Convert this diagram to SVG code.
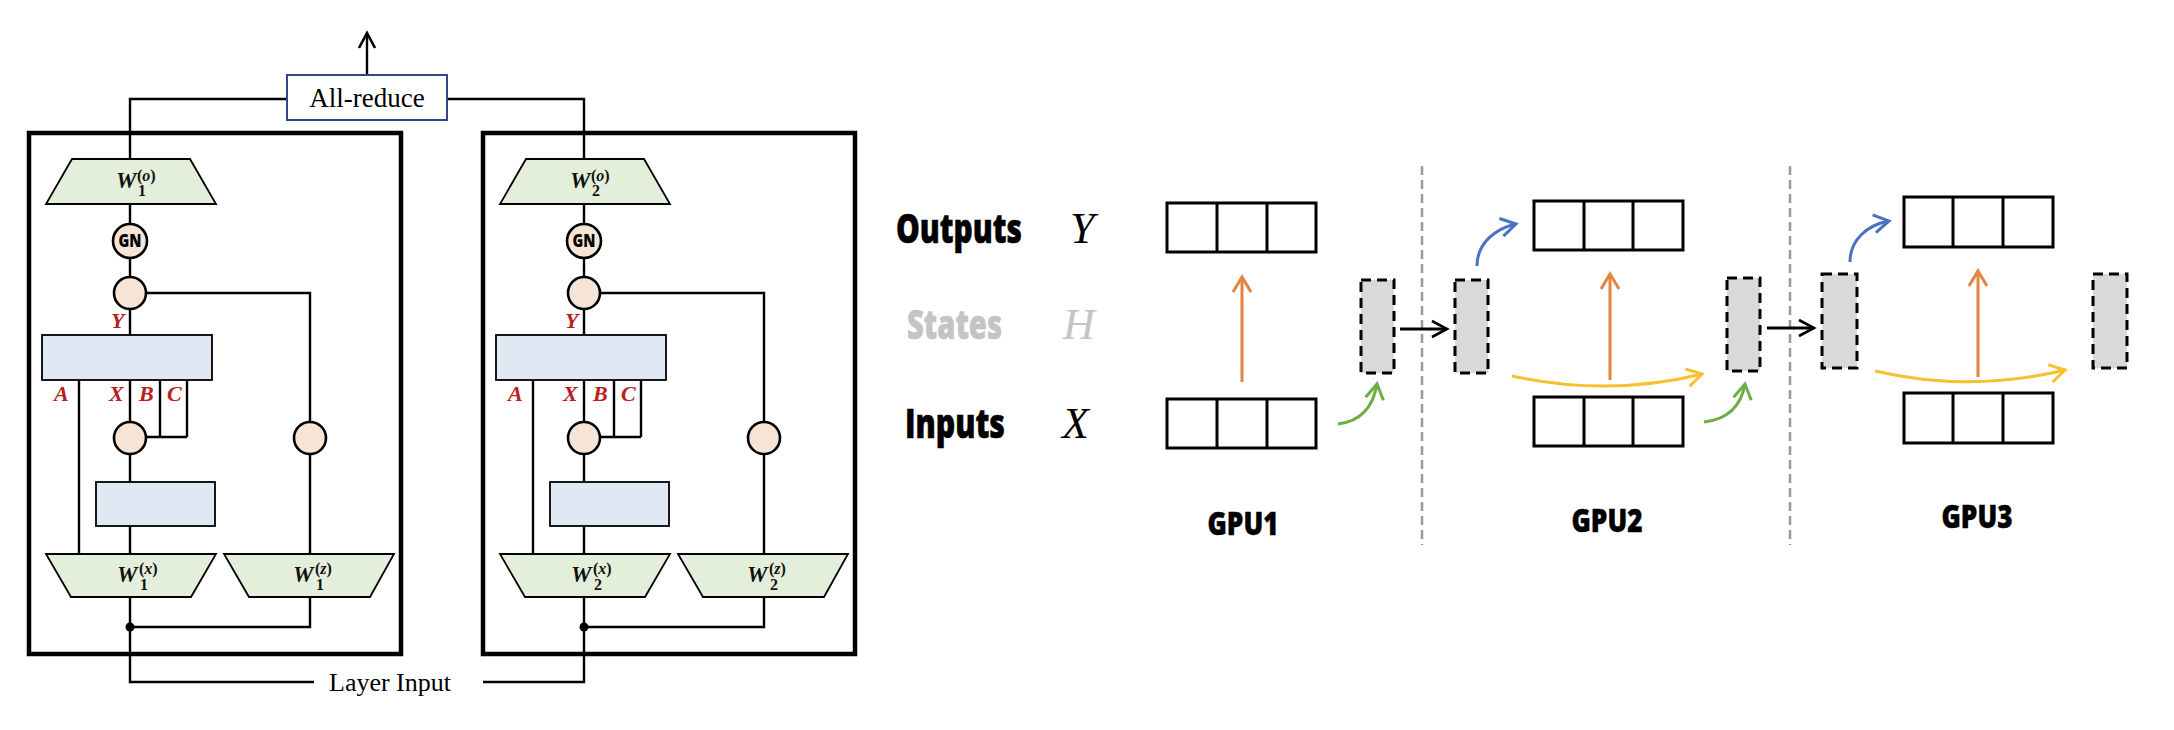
<svg xmlns="http://www.w3.org/2000/svg" width="2174" height="730" viewBox="0 0 2174 730">
<style>
.bg{fill:#ffffff}
.outer{fill:none;stroke:#000;stroke-width:4.5}
.ln{fill:none;stroke:#000;stroke-width:2.4}
.trap{fill:#e3eedb;stroke:#000;stroke-width:1.8}
.blk{fill:#dfe8f3;stroke:#000;stroke-width:1.8}
.circ{fill:#f6e4d6;stroke:#000;stroke-width:2.6}
.ar{fill:#fff;stroke:#2e4a86;stroke-width:2}
.serif{font-family:"Liberation Serif","DejaVu Serif",serif;fill:#000}
.wl{font-family:"Liberation Serif","DejaVu Serif",serif;font-weight:bold;fill:#111}
.red{font-family:"Liberation Serif","DejaVu Serif",serif;font-weight:bold;font-style:italic;fill:#b8201e;font-size:22px}
.gn{font-family:"Open Sans","Liberation Sans",sans-serif;font-weight:800;font-size:18px;fill:#000}
.big{font-family:"Open Sans","Liberation Sans",sans-serif;font-weight:800;font-size:40px;fill:#000;stroke:#000;stroke-width:0.6}
.gpu{font-family:"Open Sans","Liberation Sans",sans-serif;font-weight:800;font-size:32px;fill:#000;stroke:#000;stroke-width:0.5}
.it{font-family:"Liberation Serif","DejaVu Serif",serif;font-style:italic;font-size:44px;fill:#000}
.cell{fill:#fff;stroke:#000;stroke-width:3}
.st{fill:#d9d9d9;stroke:#000;stroke-width:3;stroke-dasharray:10 6}
.sep{fill:none;stroke:#999;stroke-width:2.5;stroke-dasharray:9 5}
</style>
<defs>
<marker id="hK" markerUnits="userSpaceOnUse" markerWidth="30" markerHeight="30" viewBox="-20 -15 30 30" refX="0" refY="0" orient="auto"><path d="M-15,-8 L0,0 L-15,8" fill="none" stroke="#000" stroke-width="2.6"/></marker>
<marker id="hO" markerUnits="userSpaceOnUse" markerWidth="30" markerHeight="30" viewBox="-20 -15 30 30" refX="0" refY="0" orient="auto"><path d="M-15,-9 L0,0 L-15,9" fill="none" stroke="#e3843f" stroke-width="3"/></marker>
<marker id="hB" markerUnits="userSpaceOnUse" markerWidth="30" markerHeight="30" viewBox="-20 -15 30 30" refX="0" refY="0" orient="auto"><path d="M-15,-9 L0,0 L-15,9" fill="none" stroke="#4a72c4" stroke-width="3"/></marker>
<marker id="hG" markerUnits="userSpaceOnUse" markerWidth="30" markerHeight="30" viewBox="-20 -15 30 30" refX="0" refY="0" orient="auto"><path d="M-15,-9 L0,0 L-15,9" fill="none" stroke="#70ad47" stroke-width="3"/></marker>
<marker id="hY" markerUnits="userSpaceOnUse" markerWidth="30" markerHeight="30" viewBox="-20 -15 30 30" refX="0" refY="0" orient="auto"><path d="M-15,-9 L0,0 L-15,9" fill="none" stroke="#f5c12e" stroke-width="3"/></marker>
</defs>
<rect class="bg" x="0" y="0" width="2174" height="730"/>

<!-- Left diagram connectors -->
<g id="connectors-left">
  <path class="ln" d="M287,99 H130 V159"/>
  <path class="ln" d="M447,99 H584 V159"/>
  <path class="ln" d="M367,75 V33" marker-end="url(#hK)"/>
  <path class="ln" d="M130,627 V682 H314"/>
  <path class="ln" d="M483,682 H584 V627"/>
  <g id="panel1-links">
    <path class="ln" d="M130,204 V224 M130,258 V277 M130,309 V335"/>
    <path class="ln" d="M146,293 H310 V422 M310,454 V554"/>
    <path class="ln" d="M79,380 V554"/>
    <path class="ln" d="M130,380 V422 M130,454 V482 M130,526 V554"/>
    <path class="ln" d="M160,380 V437 M187,380 V437 M146,437 H187"/>
    <path class="ln" d="M130,597 V627 M310,597 V627 H130"/>
    <circle cx="130" cy="627" r="4.5" fill="#000"/>
  </g>
  <g id="panel2-links" transform="translate(454,0)">
    <path class="ln" d="M130,204 V224 M130,258 V277 M130,309 V335"/>
    <path class="ln" d="M146,293 H310 V422 M310,454 V554"/>
    <path class="ln" d="M79,380 V554"/>
    <path class="ln" d="M130,380 V422 M130,454 V482 M130,526 V554"/>
    <path class="ln" d="M160,380 V437 M187,380 V437 M146,437 H187"/>
    <path class="ln" d="M130,597 V627 M310,597 V627 H130"/>
    <circle cx="130" cy="627" r="4.5" fill="#000"/>
  </g>
</g>

<g id="all-reduce">
  <rect class="ar" x="287" y="75" width="160" height="45"/>
  <text class="serif" x="367" y="107" font-size="27" text-anchor="middle">All-reduce</text>
</g>
<g id="layer-input">
  <text class="serif" x="329" y="691" font-size="26">Layer Input</text>
</g>

<!-- Panel 1 -->
<g id="panel1">
  <rect class="outer" x="29" y="133" width="372" height="521"/>
  <g id="w1o"><polygon class="trap" points="72,159 190,159 216,204 46,204"/>
    <text class="wl" x="116" y="188" font-size="23" font-style="italic">W</text>
    <text class="wl" x="138" y="196" font-size="16">1</text>
    <text class="wl" x="137" y="181" font-size="16">(<tspan font-style="italic">o</tspan>)</text></g>
  <g id="gn1"><circle class="circ" cx="130" cy="241" r="17"/><text class="gn" x="130" y="247" text-anchor="middle" textLength="23" lengthAdjust="spacingAndGlyphs">GN</text></g>
  <g id="mul1"><circle class="circ" cx="130" cy="293" r="16"/></g>
  <g id="ssm1"><rect class="blk" x="42" y="335" width="170" height="45"/></g>
  <g id="labels1">
    <text class="red" x="111" y="328">Y</text>
    <text class="red" x="54" y="401">A</text>
    <text class="red" x="109" y="401">X</text>
    <text class="red" x="139" y="401">B</text>
    <text class="red" x="167" y="401">C</text>
  </g>
  <g id="act1x"><circle class="circ" cx="130" cy="438" r="16"/></g>
  <g id="conv1"><rect class="blk" x="96" y="482" width="119" height="44"/></g>
  <g id="act1z"><circle class="circ" cx="310" cy="438" r="16"/></g>
  <g id="w1x"><polygon class="trap" points="46,554 216,554 191,597 71,597"/>
    <text class="wl" x="117" y="582" font-size="23" font-style="italic">W</text>
    <text class="wl" x="140" y="590" font-size="16">1</text>
    <text class="wl" x="139" y="574" font-size="16">(<tspan font-style="italic">x</tspan>)</text></g>
  <g id="w1z"><polygon class="trap" points="224,554 394,554 370,597 249,597"/>
    <text class="wl" x="293" y="582" font-size="23" font-style="italic">W</text>
    <text class="wl" x="316" y="590" font-size="16">1</text>
    <text class="wl" x="315" y="574" font-size="16">(<tspan font-style="italic">z</tspan>)</text></g>
</g>

<!-- Panel 2 -->
<g id="panel2" transform="translate(454,0)">
  <rect class="outer" x="29" y="133" width="372" height="521"/>
  <g id="w2o"><polygon class="trap" points="72,159 190,159 216,204 46,204"/>
    <text class="wl" x="116" y="188" font-size="23" font-style="italic">W</text>
    <text class="wl" x="138" y="196" font-size="16">2</text>
    <text class="wl" x="137" y="181" font-size="16">(<tspan font-style="italic">o</tspan>)</text></g>
  <g id="gn2"><circle class="circ" cx="130" cy="241" r="17"/><text class="gn" x="130" y="247" text-anchor="middle" textLength="23" lengthAdjust="spacingAndGlyphs">GN</text></g>
  <g id="mul2"><circle class="circ" cx="130" cy="293" r="16"/></g>
  <g id="ssm2"><rect class="blk" x="42" y="335" width="170" height="45"/></g>
  <g id="labels2">
    <text class="red" x="111" y="328">Y</text>
    <text class="red" x="54" y="401">A</text>
    <text class="red" x="109" y="401">X</text>
    <text class="red" x="139" y="401">B</text>
    <text class="red" x="167" y="401">C</text>
  </g>
  <g id="act2x"><circle class="circ" cx="130" cy="438" r="16"/></g>
  <g id="conv2"><rect class="blk" x="96" y="482" width="119" height="44"/></g>
  <g id="act2z"><circle class="circ" cx="310" cy="438" r="16"/></g>
  <g id="w2x"><polygon class="trap" points="46,554 216,554 191,597 71,597"/>
    <text class="wl" x="117" y="582" font-size="23" font-style="italic">W</text>
    <text class="wl" x="140" y="590" font-size="16">2</text>
    <text class="wl" x="139" y="574" font-size="16">(<tspan font-style="italic">x</tspan>)</text></g>
  <g id="w2z"><polygon class="trap" points="224,554 394,554 370,597 249,597"/>
    <text class="wl" x="293" y="582" font-size="23" font-style="italic">W</text>
    <text class="wl" x="316" y="590" font-size="16">2</text>
    <text class="wl" x="315" y="574" font-size="16">(<tspan font-style="italic">z</tspan>)</text></g>
</g>

<!-- Right diagram: row labels -->
<g id="row-labels">
  <text class="big" x="896" y="243" textLength="126" lengthAdjust="spacingAndGlyphs">Outputs</text>
  <text class="big" x="907" y="339" textLength="95" lengthAdjust="spacingAndGlyphs" style="fill:#c4c4c4;stroke:#c4c4c4">States</text>
  <text class="big" x="905" y="438" textLength="100" lengthAdjust="spacingAndGlyphs">Inputs</text>
  <text class="it" x="1070" y="243">Y</text>
  <text class="it" x="1063" y="339" style="fill:#c4c4c4">H</text>
  <text class="it" x="1062" y="438">X</text>
</g>

<g id="separators">
  <line class="sep" x1="1422" y1="166" x2="1422" y2="545"/>
  <line class="sep" x1="1790" y1="166" x2="1790" y2="545"/>
</g>

<!-- GPU1 -->
<g id="gpu1">
  <g id="gpu1-out"><rect class="cell" x="1167" y="203" width="149" height="49"/><path class="cell" d="M1217,203 V252 M1267,203 V252"/></g>
  <g id="gpu1-in"><rect class="cell" x="1167" y="399" width="149" height="49"/><path class="cell" d="M1217,399 V448 M1267,399 V448"/></g>
  <g id="gpu1-state"><rect class="st" x="1361" y="280" width="33" height="93"/></g>
  <text class="gpu" x="1243" y="535" text-anchor="middle" textLength="71" lengthAdjust="spacingAndGlyphs">GPU1</text>
</g>
<!-- GPU2 -->
<g id="gpu2">
  <g id="gpu2-recv"><rect class="st" x="1455" y="280" width="33" height="93"/></g>
  <g id="gpu2-out"><rect class="cell" x="1534" y="201" width="149" height="49"/><path class="cell" d="M1584,201 V250 M1633,201 V250"/></g>
  <g id="gpu2-in"><rect class="cell" x="1534" y="397" width="149" height="49"/><path class="cell" d="M1584,397 V446 M1633,397 V446"/></g>
  <g id="gpu2-state"><rect class="st" x="1727" y="278" width="33" height="93"/></g>
  <text class="gpu" x="1607" y="532" text-anchor="middle" textLength="71" lengthAdjust="spacingAndGlyphs">GPU2</text>
</g>
<!-- GPU3 -->
<g id="gpu3">
  <g id="gpu3-recv"><rect class="st" x="1822" y="274" width="35" height="94"/></g>
  <g id="gpu3-out"><rect class="cell" x="1904" y="197" width="149" height="50"/><path class="cell" d="M1953,197 V247 M2003,197 V247"/></g>
  <g id="gpu3-in"><rect class="cell" x="1904" y="393" width="149" height="50"/><path class="cell" d="M1953,393 V443 M2003,393 V443"/></g>
  <g id="gpu3-state"><rect class="st" x="2093" y="274" width="34" height="94"/></g>
  <text class="gpu" x="1977" y="528" text-anchor="middle" textLength="71" lengthAdjust="spacingAndGlyphs">GPU3</text>
</g>

<g id="connectors-right" fill="none">
  <path d="M1242,382 V277" stroke="#e3843f" stroke-width="3" marker-end="url(#hO)"/>
  <path d="M1610,380 V274" stroke="#e3843f" stroke-width="3" marker-end="url(#hO)"/>
  <path d="M1978,377 V271" stroke="#e3843f" stroke-width="3" marker-end="url(#hO)"/>
  <path d="M1338,424 Q1371,420 1377,384" stroke="#70ad47" stroke-width="3" marker-end="url(#hG)"/>
  <path d="M1704,422 Q1739,418 1745,384" stroke="#70ad47" stroke-width="3" marker-end="url(#hG)"/>
  <path d="M1400,329 H1447" stroke="#000" stroke-width="2.8" marker-end="url(#hK)"/>
  <path d="M1767,328 H1814" stroke="#000" stroke-width="2.8" marker-end="url(#hK)"/>
  <path d="M1477,266 C1477,244 1494,229 1516,224" stroke="#4a72c4" stroke-width="3" marker-end="url(#hB)"/>
  <path d="M1850,262 C1850,240 1867,225 1889,221" stroke="#4a72c4" stroke-width="3" marker-end="url(#hB)"/>
  <path d="M1512,376 Q1610,397 1702,374" stroke="#f5c12e" stroke-width="3" marker-end="url(#hY)"/>
  <path d="M1875,371 Q1970,393 2065,370" stroke="#f5c12e" stroke-width="3" marker-end="url(#hY)"/>
</g>
</svg>
